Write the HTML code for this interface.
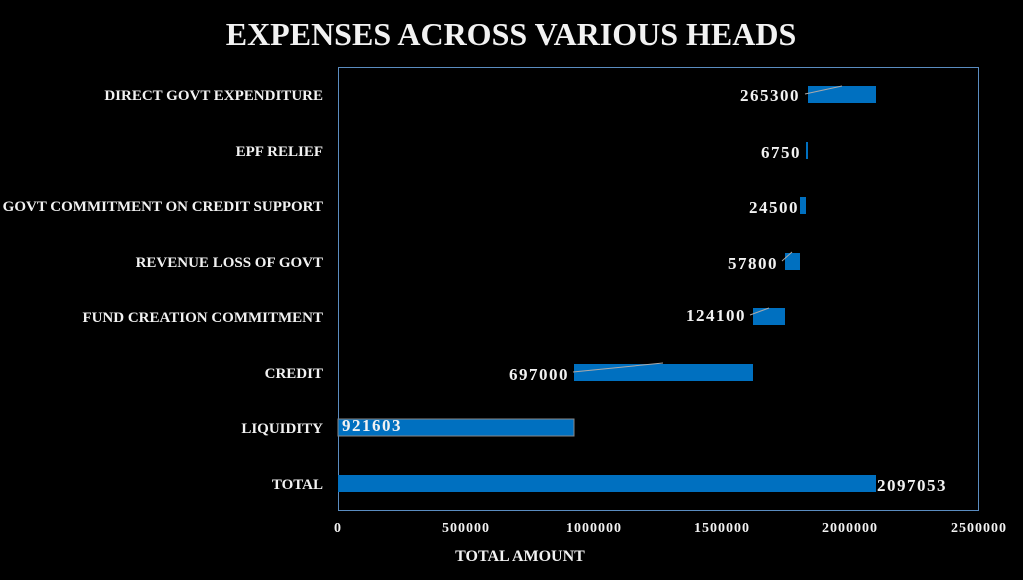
<!DOCTYPE html>
<html><head><style>
body{margin:0;background:#000;width:1023px;height:575px;overflow:hidden}
text{font-family:"Liberation Serif",serif;fill:#f2f2f2}
.c{font-weight:bold;font-size:15px;text-anchor:end}
.v{font-size:17px;font-weight:bold;letter-spacing:1.5px}
.t{font-size:14px;text-anchor:middle;font-weight:bold;letter-spacing:1px}
</style></head><body>
<svg width="1023" height="575" xmlns="http://www.w3.org/2000/svg">
<rect width="1023" height="575" fill="#000"/>
<text x="511" y="45" text-anchor="middle" style="font-size:32px;font-weight:bold">EXPENSES ACROSS VARIOUS HEADS</text>
<rect x="338.5" y="67.5" width="640" height="443" fill="none" stroke="#5a8cc0" stroke-width="1"/>
<g fill="#0070c0">
<rect x="808" y="86" width="68" height="17"/>
<rect x="806" y="142" width="2" height="17"/>
<rect x="800" y="197" width="6" height="17"/>
<rect x="785" y="253" width="15" height="17"/>
<rect x="753" y="308" width="32" height="17"/>
<rect x="574" y="364" width="179" height="17"/>
<rect x="338" y="419" width="236" height="17" stroke="#888" stroke-width="1"/>
<rect x="338" y="475" width="538" height="17"/>
</g>
<g stroke="#aaa" stroke-width="1">
<line x1="805" y1="94" x2="842" y2="86"/>
<line x1="782" y1="261" x2="792" y2="252"/>
<line x1="750" y1="315" x2="769" y2="308"/>
<line x1="573" y1="372" x2="663" y2="363"/>
</g>
<text x="323" y="100" class="c">DIRECT GOVT EXPENDITURE</text>
<text x="323" y="156" class="c">EPF RELIEF</text>
<text x="323" y="211" class="c">GOVT COMMITMENT ON CREDIT SUPPORT</text>
<text x="323" y="267" class="c">REVENUE LOSS OF GOVT</text>
<text x="323" y="322" class="c">FUND CREATION COMMITMENT</text>
<text x="323" y="378" class="c">CREDIT</text>
<text x="323" y="433" class="c">LIQUIDITY</text>
<text x="323" y="489" class="c">TOTAL</text>
<text class="v" x="800" y="101" text-anchor="end">265300</text>
<text class="v" x="801" y="158" text-anchor="end">6750</text>
<text class="v" x="799" y="213" text-anchor="end">24500</text>
<text class="v" x="778" y="269" text-anchor="end">57800</text>
<text class="v" x="746" y="321" text-anchor="end">124100</text>
<text class="v" x="569" y="380" text-anchor="end">697000</text>
<text class="v" x="342" y="431">921603</text>
<text class="v" x="877" y="491">2097053</text>
<text class="t" x="338" y="532">0</text>
<text class="t" x="466" y="532">500000</text>
<text class="t" x="594" y="532">1000000</text>
<text class="t" x="722" y="532">1500000</text>
<text class="t" x="850" y="532">2000000</text>
<text class="t" x="979" y="532">2500000</text>
<text x="520" y="561" text-anchor="middle" style="font-size:16px;font-weight:bold">TOTAL AMOUNT</text>
</svg>
</body></html>
